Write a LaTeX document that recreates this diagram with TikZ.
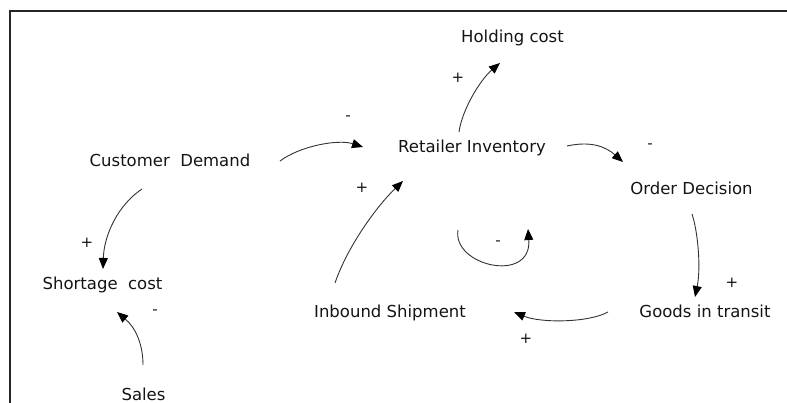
\documentclass[tikz,border=0pt]{standalone}
\usepackage{fontspec}
\setmainfont{DejaVu Sans}
\usetikzlibrary{arrows.meta}
\begin{document}
\begin{tikzpicture}[x=1pt,y=-1pt,
  lbl/.style={font=\fontsize{16.5}{20}\selectfont, text=black!92, inner sep=0pt, anchor=base},
  sgn/.style={font=\fontsize{15}{18}\selectfont, text=black!92, inner sep=0pt},
  link/.style={draw=black!80, line width=0.9pt,
    -{Triangle[length=11pt,width=9pt,color=black]}}]
\useasboundingbox (0,0) rectangle (787,403);

% frame (top and left edges only)
\draw[line width=2pt, black!85] (10,403) -- (10,11) -- (787,11);

% variables
\node[lbl] (hc) at (512.5,43)  {Holding cost};
\node[lbl] (ri) at (472,153)   {Retailer Inventory};
\node[lbl] (od) at (691.5,195) {Order Decision};
\node[lbl] (cd) at (170,167)   {Customer\ \ Demand};
\node[lbl] (sc) at (102.5,290) {Shortage\ \ cost};
\node[lbl] (sa) at (143.5,400) {Sales};
\node[lbl] (is) at (390,318)   {Inbound Shipment};
\node[lbl] (gt) at (705,318)   {Goods in transit};

% causal links
\draw[link] ([shift={(110,-6)}]cd.base) .. controls (300,146) and (338,139) .. ([shift={(-109,-6)}]ri.base);
\draw[link] ([shift={(-13,-21)}]ri.base) .. controls (462,110) and (480,80) .. ([shift={(-12.5,20)}]hc.base);
\draw[link] ([shift={(95,-7)}]ri.base) .. controls (590,141) and (605,146) .. ([shift={(-68.5,-33)}]od.base);
\draw[link] ([shift={(0.5,19)}]od.base) .. controls (698,232) and (701,268) .. ([shift={(-10,-21)}]gt.base);
\draw[link] ([shift={(-97,-6)}]gt.base) .. controls (588,323) and (540,323) .. ([shift={(124,-6)}]is.base);
\draw[link] ([shift={(-55,-35)}]is.base) .. controls (348,245) and (378,205) .. ([shift={(-69,28)}]ri.base);
\draw[link] ([shift={(-14,77)}]ri.base) .. controls (452,266) and (532,284) .. ([shift={(56,76)}]ri.base);
\draw[link] ([shift={(-28,22)}]cd.base) .. controls (118,205) and (104,235) .. ([shift={(0.5,-21)}]sc.base);
\draw[link] ([shift={(-0.5,-35)}]sa.base) .. controls (143,345) and (136,328) .. ([shift={(14.5,22)}]sc.base);

% polarities
\node[sgn] (p1) at (348,118) {-};
\node[sgn] (p2) at (458,78)  {+};
\node[sgn] (p3) at (650,146) {-};
\node[sgn] (p4) at (732,283) {+};
\node[sgn] (p5) at (526,339) {+};
\node[sgn] (p6) at (362,188) {+};
\node[sgn] (p7) at (498,243) {-};
\node[sgn] (p8) at (87,243)  {+};
\node[sgn] (p9) at (155,312) {-};
\end{tikzpicture}
\end{document}
